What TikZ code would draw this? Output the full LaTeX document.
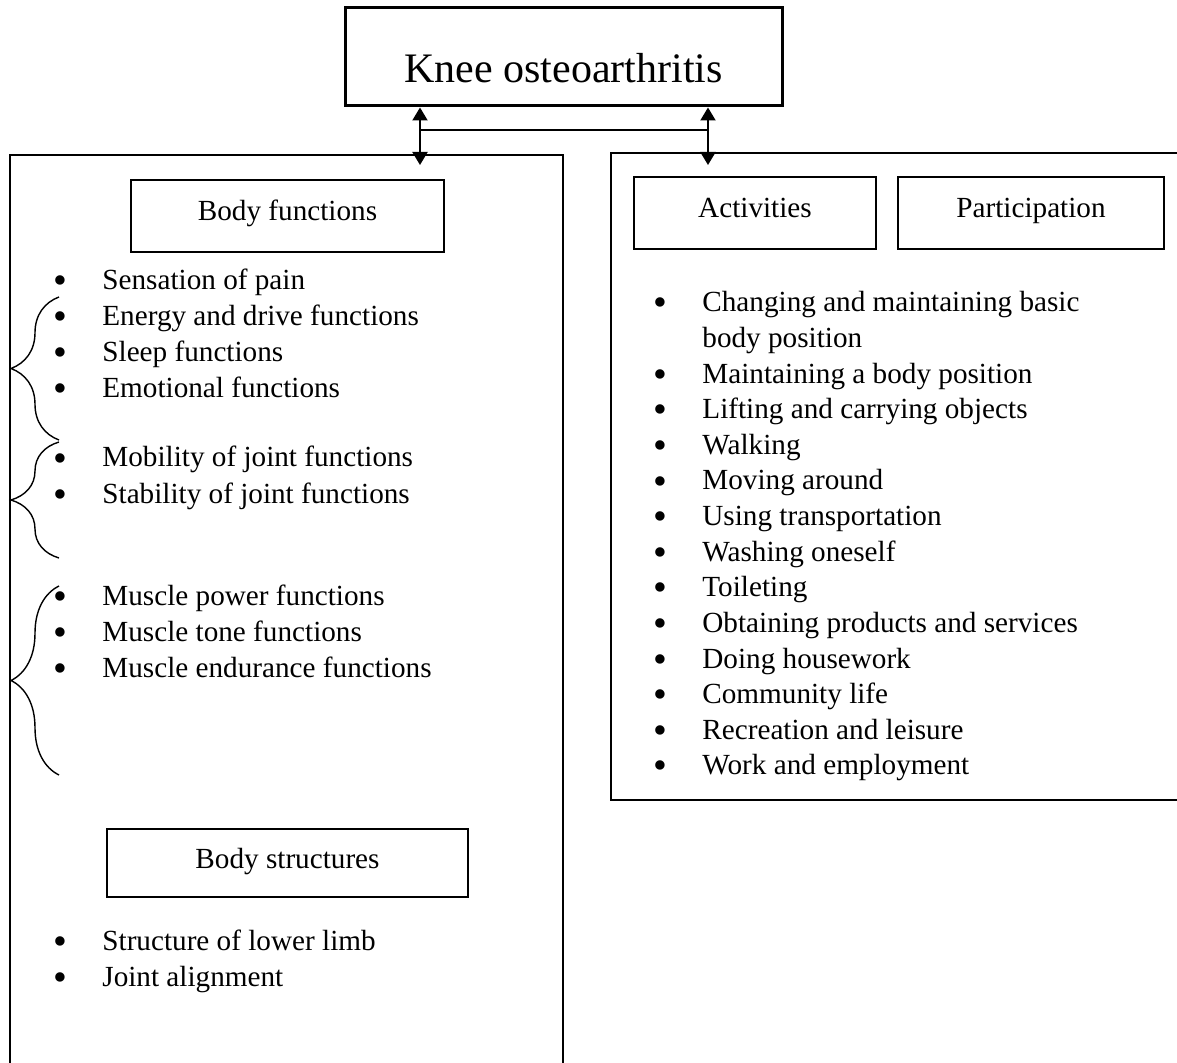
\documentclass[tikz,border=0pt]{standalone}
\usepackage{fontspec}
\setmainfont{Liberation Serif}
\usepackage{graphicx}
\usetikzlibrary{arrows.meta,decorations.pathreplacing,positioning}
\newcommand{\punto}{\makebox[24.5pt][l]{\raisebox{-2pt}{\scalebox{1.35}{\textbullet}}}}
\tikzstyle{titolo} = [rectangle,draw,line width=1.5pt,minimum width=218.5pt,minimum height=49pt,text height=26pt,text depth=0pt,font=\fontsize{21}{25}\selectfont]
\tikzstyle{casella} = [rectangle,draw,line width=1.1pt,minimum height=36pt,text height=10pt,text depth=5pt]
\tikzstyle{voce} = [anchor=base west,inner sep=0pt]
\tikzstyle{freccia} = [line width=1pt,{Triangle[length=6.5pt,width=7.5pt]}-{Triangle[length=6.5pt,width=7.5pt]}]
\tikzstyle{graffa} = [decorate,decoration={brace,amplitude=24pt},line width=0.7pt]

\begin{document}
\begin{tikzpicture}[x=0.5pt,y=-0.5pt]
\tikzstyle{every node}=[font=\fontsize{14.6}{17}\selectfont]
\useasboundingbox (0,0) rectangle (1177,1063);

% 1px = 0.5pt, y grows downward

\node (knee) [titolo] at (563.5,57) {Knee osteoarthritis};

\draw[line width=0.6pt] (10,1075) -- (10,155) -- (563,155) -- (563,1075);
\draw[line width=0.6pt] (1185,153) -- (611,153) -- (611,800) -- (1185,800);

\node (bodyfun) [casella,minimum width=156.5pt] at (287.5,216) {Body functions};
\node (activ)   [casella,minimum width=121pt] at (755,213) {Activities};
\node (partic)  [casella,minimum width=133pt] at (1031,213) {Participation};
\node (bodystr) [casella,minimum width=180.5pt,minimum height=34pt] at (287.5,863) {Body structures};

\node (bf1) [voce] at (53,290) {\punto Sensation of pain};
\node (bf2) [voce] at (53,326) {\punto Energy and drive functions};
\node (bf3) [voce] at (53,362) {\punto Sleep functions};
\node (bf4) [voce] at (53,398) {\punto Emotional functions};
\node (bf5) [voce] at (53,467) {\punto Mobility of joint functions};
\node (bf6) [voce] at (53,503) {\punto Stability of joint functions};
\node (bf7) [voce] at (53,605) {\punto Muscle power functions};
\node (bf8) [voce] at (53,641) {\punto Muscle tone functions};
\node (bf9) [voce] at (53,677) {\punto Muscle endurance functions};

\node (bs1) [voce] at (53,950) {\punto Structure of lower limb};
\node (bs2) [voce] at (53,986) {\punto Joint alignment};

\node (ap1)  [voce] at (653,312)   {\punto Changing and maintaining basic};
\node (ap1b) [voce] at (702,347.6) {body position};
\node (ap2)  [voce] at (653,383.2) {\punto Maintaining a body position};
\node (ap3)  [voce] at (653,418.8) {\punto Lifting and carrying objects};
\node (ap4)  [voce] at (653,454.4) {\punto Walking};
\node (ap5)  [voce] at (653,490)   {\punto Moving around};
\node (ap6)  [voce] at (653,525.6) {\punto Using transportation};
\node (ap7)  [voce] at (653,561.2) {\punto Washing oneself};
\node (ap8)  [voce] at (653,596.8) {\punto Toileting};
\node (ap9)  [voce] at (653,632.4) {\punto Obtaining products and services};
\node (ap10) [voce] at (653,668)   {\punto Doing housework};
\node (ap11) [voce] at (653,703.6) {\punto Community life};
\node (ap12) [voce] at (653,739.2) {\punto Recreation and leisure};
\node (ap13) [voce] at (653,774.8) {\punto Work and employment};

\coordinate (lnodo) at (420,130);
\coordinate (rnodo) at (708,130);
\coordinate (lpiede) at (420,165);
\coordinate (rpiede) at (708,165);

\coordinate (g1a) at (59,297);
\coordinate (g1b) at (59,440);
\coordinate (g2a) at (59,442);
\coordinate (g2b) at (59,558);
\coordinate (g3a) at (59,586);
\coordinate (g3b) at (59,775);

\draw[freccia] (knee.south -| lpiede) -- (lpiede);
\draw[freccia] (knee.south -| rpiede) -- (rpiede);
\draw[line width=0.6pt] (lnodo) -- (rnodo);

\draw[graffa] (g1b) -- (g1a);
\draw[graffa] (g2b) -- (g2a);
\draw[graffa] (g3b) -- (g3a);

\end{tikzpicture}
\end{document}
